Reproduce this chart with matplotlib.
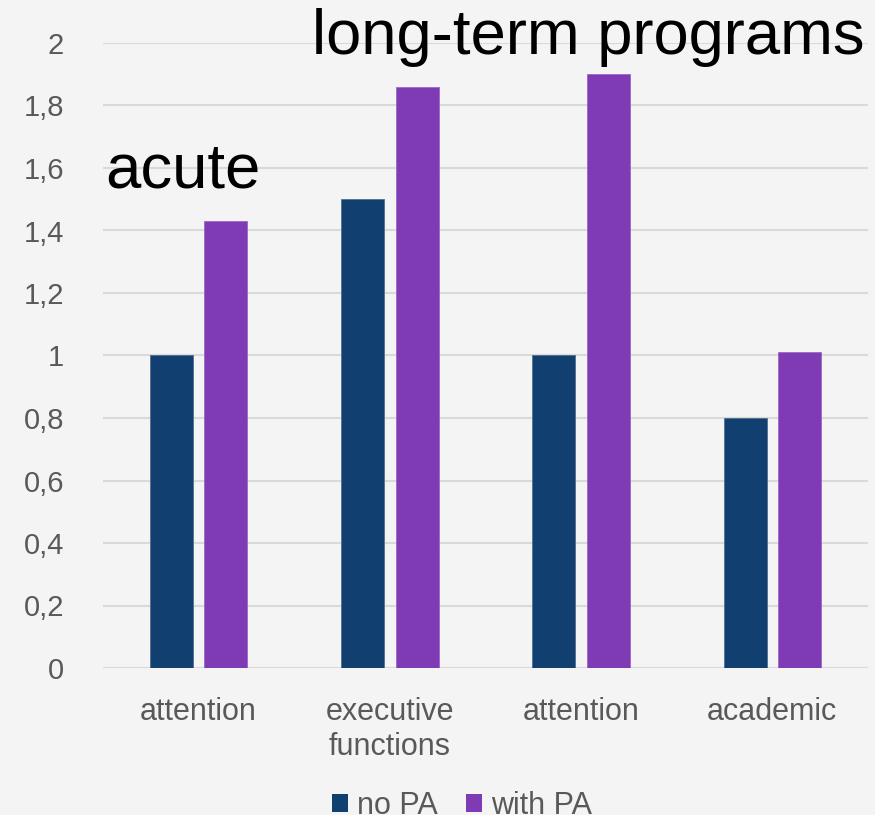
import numpy as np
import matplotlib.pyplot as plt
from matplotlib.patches import Patch, Rectangle

plt.rcParams['font.family'] = ['Liberation Sans', 'DejaVu Sans']

categories = ['attention', 'executive\nfunctions', 'attention', 'academic']
no_pa = [1.0, 1.5, 1.0, 0.8]
with_pa = [1.43, 1.86, 1.9, 1.01]
yticks = [0, 0.2, 0.4, 0.6, 0.8, 1.0, 1.2, 1.4, 1.6, 1.8, 2.0]

NAVY = '#103f70'
PURPLE = '#7e3bb4'
TEXT = '#595959'

fig = plt.figure(figsize=(8.95, 8.15), dpi=100, facecolor='white')
# light panel behind the chart
fig.patches.append(Rectangle((0, 0), 875 / 895, 1, transform=fig.transFigure,
                             facecolor='#f4f4f4', edgecolor='none', zorder=-10))

ax = fig.add_axes([103 / 895, 147 / 815, 765 / 895, 625 / 815])
ax.patch.set_visible(False)

x = np.arange(len(categories))
w = 0.225
off = 0.142
ax.bar(x - off, no_pa, w, color=NAVY, edgecolor='#4f6f90', linewidth=0.6, zorder=3)
ax.bar(x + off, with_pa, w, color=PURPLE, edgecolor='#9a66c8', linewidth=0.6, zorder=3)

ax.set_xlim(-0.5, 3.5)
ax.set_ylim(0, 2)
ax.set_yticks(yticks)
ax.set_yticklabels([f'{v:g}'.replace('.', ',') for v in yticks])
ax.set_xticks(x)
ax.set_xticklabels(categories, linespacing=1.23)
ax.tick_params(axis='y', length=0, pad=28, labelsize=21, labelcolor=TEXT)
ax.tick_params(axis='x', length=0, pad=21, labelsize=22, labelcolor=TEXT)
ax.grid(axis='y', color='#d9d9d9', linewidth=1.5, zorder=0)
for s in ax.spines.values():
    s.set_visible(False)

fig.text(105 / 895, 1 - 188 / 815, 'acute', fontsize=45.6, color='black',
         ha='left', va='baseline')
fig.text(312 / 895, 1 - 54 / 815, 'long-term programs', fontsize=45.6,
         color='black', ha='left', va='baseline')

handles = [Patch(facecolor=NAVY, edgecolor='none', label='no PA'),
           Patch(facecolor=PURPLE, edgecolor='none', label='with PA')]
fig.legend(handles=handles, loc='center', bbox_to_anchor=(462 / 895, 1 - 806 / 815),
           ncol=2, frameon=False, fontsize=22, labelcolor=TEXT,
           handlelength=0.52, handleheight=0.52, handletextpad=0.3,
           columnspacing=0.9, borderpad=0, borderaxespad=0)

fig.savefig('out.png', dpi=100, facecolor=fig.get_facecolor())
